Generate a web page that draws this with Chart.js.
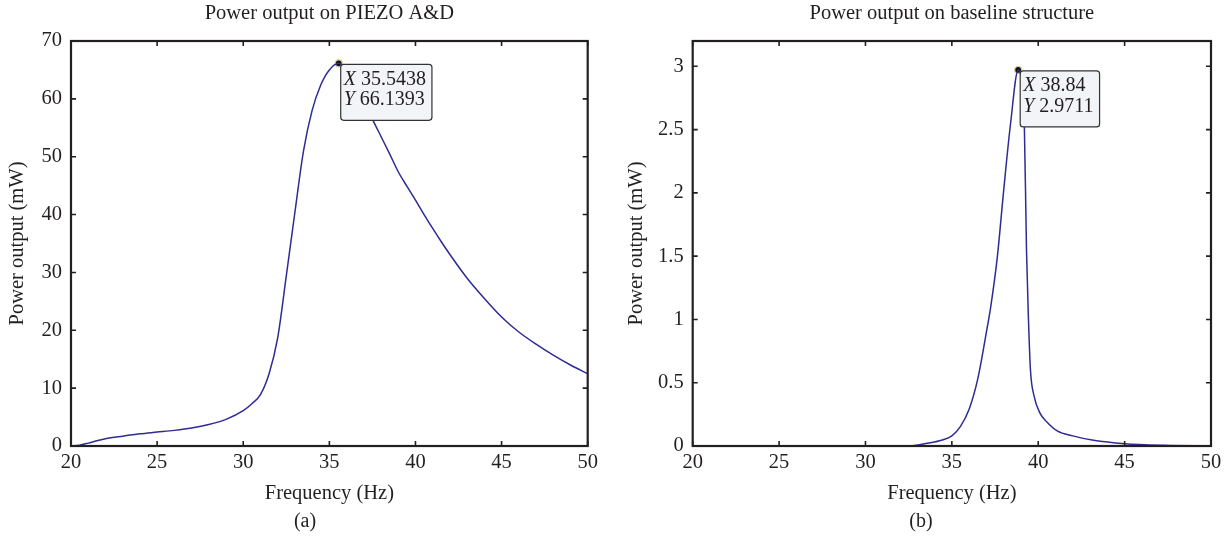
<!DOCTYPE html>
<html>
<head>
    <meta charset="utf-8">
    <title>Power output</title>
    <script src="https://cdn.jsdelivr.net/npm/chart.js"></script>
    <style>
        body {
            margin: 0;
            background: #fff;
            font-family: 'Liberation Serif', serif;
            color: #231f20;
        }
        .wrap { position: relative; width: 1229px; height: 547px; }
        .panel { position: absolute; top: 0; height: 547px; }
        #panelA { left: 0; width: 615px; }
        #panelB { left: 615px; width: 614px; }
        .caption {
            position: absolute;
            top: 509px;
            font-size: 20px;
            transform: translateX(-50%);
        }
    </style>
</head>
<body>
<div class="wrap">
    <div class="panel" id="panelA"><canvas id="chartA"></canvas></div>
    <div class="panel" id="panelB"><canvas id="chartB"></canvas></div>
    <div class="caption" style="left:305px">(a)</div>
    <div class="caption" style="left:921px">(b)</div>
</div>

<script>
    // (a) PIEZO A&D
    const freqA = [20, 20.5, 21, 21.5, 22, 23, 24, 25, 26, 27, 28, 29, 30, 30.5, 31, 31.5, 32, 32.5, 33, 33.5,
        34, 34.5, 35, 35.5438, 36, 36.5, 37, 37.5, 38, 38.5, 39, 39.5, 40, 40.5, 41, 41.5, 42, 43, 44, 45,
        46, 47, 48, 49, 50];
    const powerA = [0, 0.15, 0.5, 0.9, 1.25, 1.7, 2.1, 2.4, 2.7, 3.1, 3.7, 4.6, 6.1, 7.3, 8.9, 12.5, 18.7, 29.4, 40.4, 51.0,
        58.0, 62.4, 65.0, 66.1393, 64.7, 62.6, 59.8, 56.5, 53.5, 50.5, 47.4, 44.9, 42.5, 40.0, 37.6, 35.3, 33.1, 29.0, 25.5, 22.3,
        19.7, 17.6, 15.7, 14.0, 12.5];
    const peakA = [35.5438, 66.1393];

    // (b) baseline structure
    const freqB = [20, 32.5, 33.5, 34.5, 35, 35.5, 36, 36.5, 37, 37.25, 37.63, 38, 38.4, 38.84, 39.2, 39.32,
        39.43, 39.55, 39.75, 40.1, 40.5, 41.1, 42, 43.2, 45, 47.3, 50];
    const powerB = [0, 0, 0.02, 0.05, 0.08, 0.155, 0.29, 0.53, 0.9, 1.1, 1.49, 2.02, 2.55, 2.9711, 2.5, 1.55,
        1.02, 0.6, 0.4, 0.26, 0.19, 0.12, 0.08, 0.045, 0.018, 0.005, 0];
    const peakB = [38.84, 2.9711];

    const freqTicks = [20, 25, 30, 35, 40, 45, 50];
    const ink = '#231f20';
    const lineBlue = '#2e2b94';
    const serif = "'Liberation Serif', 'Times New Roman', serif";
    const fs = 20.5;

    // frame with inward ticks + the data tip box
    const framePlugin = {
        id: 'frame',
        afterDatasetsDraw(chart, args, opts) {
            const {ctx, chartArea: a, scales: {x, y}} = chart;
            ctx.save();
            ctx.strokeStyle = ink;
            ctx.lineWidth = 1.6;
            ctx.beginPath();
            x.ticks.forEach(t => {
                const px = x.getPixelForValue(t.value);
                ctx.moveTo(px, a.bottom); ctx.lineTo(px, a.bottom - 5);
                ctx.moveTo(px, a.top); ctx.lineTo(px, a.top + 5);
            });
            y.ticks.forEach(t => {
                const py = y.getPixelForValue(t.value);
                ctx.moveTo(a.left, py); ctx.lineTo(a.left + 5, py);
                ctx.moveTo(a.right, py); ctx.lineTo(a.right - 5, py);
            });
            ctx.stroke();
            ctx.lineWidth = 2.2;
            ctx.strokeRect(a.left, a.top, a.right - a.left, a.bottom - a.top);

            // data tip
            const px = x.getPixelForValue(opts.peak[0]);
            const py = y.getPixelForValue(opts.peak[1]);
            const lines = [['X', ' ' + opts.peak[0]], ['Y', ' ' + opts.peak[1]]];
            const tipFont = '20px ' + serif;
            let w = 0;
            lines.forEach(l => {
                ctx.font = 'italic ' + tipFont;
                const w1 = ctx.measureText(l[0]).width;
                ctx.font = tipFont;
                w = Math.max(w, w1 + ctx.measureText(l[1]).width);
            });
            const bx = px + 2, by = py + 1, bw = w + 9, bh = 56;
            ctx.beginPath();
            ctx.roundRect(bx, by, bw, bh, 3);
            ctx.fillStyle = '#f3f4f8';
            ctx.fill();
            ctx.lineWidth = 1.2;
            ctx.strokeStyle = '#333';
            ctx.stroke();
            ctx.fillStyle = ink;
            ctx.textBaseline = 'middle';
            lines.forEach((l, i) => {
                const ty = by + 15 + i * 20.5;
                ctx.font = 'italic ' + tipFont;
                ctx.fillText(l[0], bx + 3, ty);
                const w1 = ctx.measureText(l[0]).width;
                ctx.font = tipFont;
                ctx.fillText(l[1], bx + 3 + w1, ty);
            });
            ctx.restore();
        }
    };

    function buildConfig(freq, power, peak, title, yMax, yStep, yWidth, yTitlePad, padRight) {
        return {
            type: 'line',
            data: {
                datasets: [{
                    data: freq.map((f, i) => ({x: f, y: power[i]})),
                    borderColor: lineBlue,
                    borderWidth: 1.5,
                    pointRadius: 0,
                    cubicInterpolationMode: 'monotone',
                    fill: false
                }, {
                    data: [{x: peak[0], y: peak[1]}],
                    showLine: false,
                    pointRadius: 3.6,
                    pointBackgroundColor: '#111',
                    pointBorderColor: '#ddd49a',
                    pointBorderWidth: 1.4
                }]
            },
            options: {
                responsive: true,
                maintainAspectRatio: false,
                animation: false,
                layout: { padding: { left: 0, right: padRight, top: 0, bottom: 0 }, autoPadding: false },
                plugins: {
                    legend: { display: false },
                    tooltip: { enabled: false },
                    title: {
                        display: true,
                        text: title,
                        color: ink,
                        fullSize: false,
                        font: { family: serif, size: fs, weight: 'normal' },
                        padding: { top: 1, bottom: 15.4 }
                    },
                    frame: { peak: peak }
                },
                scales: {
                    x: {
                        type: 'linear',
                        min: 20, max: 50,
                        afterBuildTicks: s => { s.ticks = freqTicks.map(v => ({value: v})); },
                        afterFit: s => { s.height = 101; },
                        grid: { display: false, drawTicks: false },
                        border: { display: false },
                        ticks: { color: ink, padding: 4, maxRotation: 0, font: { family: serif, size: fs } },
                        title: {
                            display: true, text: 'Frequency (Hz)', color: ink,
                            font: { family: serif, size: fs },
                            padding: { top: 0, bottom: 40.7 }
                        }
                    },
                    y: {
                        type: 'linear',
                        min: 0, max: yMax,
                        afterFit: s => { s.width = yWidth; },
                        grid: { display: false, drawTicks: false },
                        border: { display: false },
                        ticks: {
                            stepSize: yStep, includeBounds: false, color: ink, padding: 9,
                            font: { family: serif, size: fs },
                            callback: v => String(v)
                        },
                        title: {
                            display: true, text: 'Power output (mW)', color: ink,
                            font: { family: serif, size: fs },
                            padding: { top: yTitlePad, bottom: 0 }
                        }
                    }
                }
            },
            plugins: [framePlugin]
        };
    }

    new Chart(document.getElementById('chartA'),
        buildConfig(freqA, powerA, peakA, 'Power output on PIEZO A&D', 70, 10, 71, 5.7, 27.3));
    new Chart(document.getElementById('chartB'),
        buildConfig(freqB, powerB, peakB, 'Power output on baseline structure', 3.2, 0.5, 77.7, 9.2, 18));
</script>
</body>
</html>
